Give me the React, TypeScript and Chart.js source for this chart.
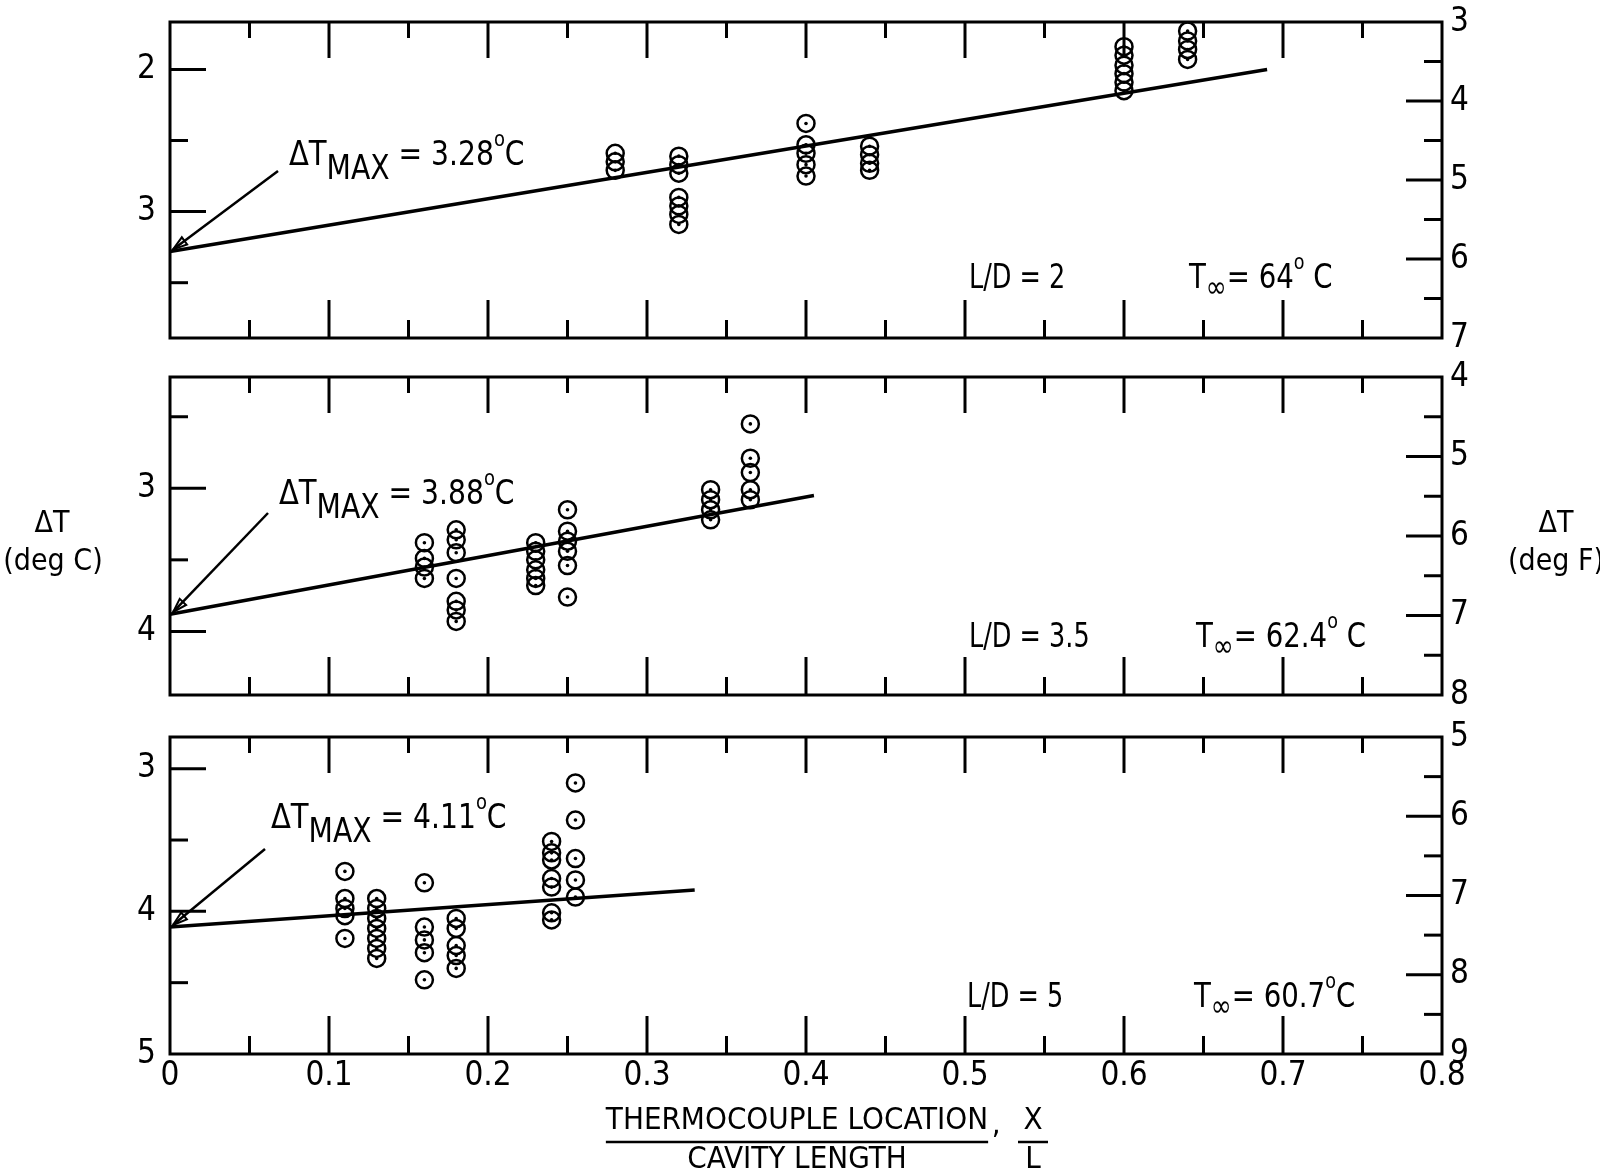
import React, { useEffect, useRef } from 'react';
import { Chart, registerables } from 'chart.js';

Chart.register(...registerables);

const FONT = "'Liberation Sans Narrow', 'DejaVu Sans Condensed', 'Liberation Sans', 'DejaVu Sans', sans-serif";

// ---------- Data (x/L, ΔT in deg C) ----------
// Panel 1: L/D = 2
const p1X = [0.28, 0.28, 0.28, 0.32, 0.32, 0.32, 0.32, 0.32, 0.32, 0.32, 0.40, 0.40, 0.40, 0.40, 0.40, 0.44, 0.44, 0.44, 0.44, 0.60, 0.60, 0.60, 0.60, 0.60, 0.60, 0.64, 0.64, 0.64, 0.64];
const p1Y = [2.59, 2.65, 2.71, 2.61, 2.67, 2.73, 2.90, 2.96, 3.02, 3.09, 2.38, 2.53, 2.59, 2.67, 2.75, 2.54, 2.60, 2.66, 2.71, 1.84, 1.90, 1.97, 2.03, 2.09, 2.15, 1.73, 1.80, 1.86, 1.93];
const p1FitX = [0, 0.69];
const p1FitY = [3.28, 2.0];

// Panel 2: L/D = 3.5
const p2X = [0.16, 0.16, 0.16, 0.16, 0.18, 0.18, 0.18, 0.18, 0.18, 0.18, 0.18, 0.23, 0.23, 0.23, 0.23, 0.23, 0.23, 0.25, 0.25, 0.25, 0.25, 0.25, 0.25, 0.34, 0.34, 0.34, 0.34, 0.365, 0.365, 0.365, 0.365, 0.365];
const p2Y = [3.38, 3.49, 3.55, 3.63, 3.29, 3.36, 3.45, 3.63, 3.79, 3.85, 3.93, 3.38, 3.44, 3.50, 3.57, 3.63, 3.68, 3.15, 3.30, 3.37, 3.44, 3.54, 3.76, 3.01, 3.08, 3.15, 3.22, 2.55, 2.79, 2.89, 3.01, 3.08];
const p2FitX = [0, 0.405];
const p2FitY = [3.88, 3.05];

// Panel 3: L/D = 5
const p3X = [0.11, 0.11, 0.11, 0.11, 0.11, 0.13, 0.13, 0.13, 0.13, 0.13, 0.13, 0.13, 0.16, 0.16, 0.16, 0.16, 0.16, 0.18, 0.18, 0.18, 0.18, 0.18, 0.24, 0.24, 0.24, 0.24, 0.24, 0.24, 0.24, 0.255, 0.255, 0.255, 0.255, 0.255];
const p3Y = [3.72, 3.91, 3.98, 4.03, 4.19, 3.91, 3.98, 4.05, 4.12, 4.19, 4.26, 4.33, 3.80, 4.11, 4.20, 4.29, 4.48, 4.05, 4.12, 4.24, 4.31, 4.40, 3.51, 3.59, 3.64, 3.77, 3.83, 4.01, 4.06, 3.10, 3.36, 3.63, 3.78, 3.90];
const p3FitX = [0, 0.33];
const p3FitY = [4.11, 3.85];

// ---------- Axes / ticks ----------
const xTickValues = [0, 0.05, 0.1, 0.15, 0.2, 0.25, 0.3, 0.35, 0.4, 0.45, 0.5, 0.55, 0.6, 0.65, 0.7, 0.75, 0.8];
const xTickLabels = ['0', '', '0.1', '', '0.2', '', '0.3', '', '0.4', '', '0.5', '', '0.6', '', '0.7', '', '0.8'];

const p1LeftTicks = [2, 2.5, 3, 3.5];
const p1LeftLabels = ['2', '', '3', ''];
const p2LeftTicks = [2.5, 3, 3.5, 4];
const p2LeftLabels = ['', '3', '', '4'];
const p3LeftTicks = [3, 3.5, 4, 4.5, 5];
const p3LeftLabels = ['3', '', '4', '', '5'];

const p1RightTicks = [3, 3.5, 4, 4.5, 5, 5.5, 6, 6.5, 7];
const p1RightLabels = ['3', '', '4', '', '5', '', '6', '', '7'];
const p2RightTicks = [4, 4.5, 5, 5.5, 6, 6.5, 7, 7.5, 8];
const p2RightLabels = ['4', '', '5', '', '6', '', '7', '', '8'];
const p3RightTicks = [5, 5.5, 6, 6.5, 7, 7.5, 8, 8.5, 9];
const p3RightLabels = ['5', '', '6', '', '7', '', '8', '', '9'];

const degFRanges = [[3, 7], [4, 8], [5, 9]];

const dTmaxValues = ['3.28', '3.88', '4.11'];
const ldValues = ['2', '3.5', '5'];
const tInfValues = ['64', '62.4', '60.7'];
const tInfUnits = [' C', ' C', 'C'];

// ---------- Drawing helpers ----------
type Part = [string, number, number];

function drawRich(ctx: CanvasRenderingContext2D, x: number, y: number, parts: Part[], sx = 0.9) {
  ctx.save();
  ctx.translate(x, y);
  ctx.scale(sx, 1);
  let cx = 0;
  for (const [t, size, dy] of parts) {
    ctx.font = `${size}px ${FONT}`;
    ctx.fillText(t, cx, dy);
    cx += ctx.measureText(t).width;
  }
  ctx.restore();
}

const decoPlugin = {
  id: 'deco',
  afterDraw(chart: any, _args: any, o: any) {
    const { ctx, chartArea: a, scales } = chart;
    const xs = scales.x;
    const yl = scales.y;
    const yr = scales.yF;
    ctx.save();
    ctx.strokeStyle = '#000';
    ctx.fillStyle = '#000';
    ctx.lineCap = 'butt';
    const seg = (x1: number, y1: number, x2: number, y2: number, w = 3) => {
      ctx.lineWidth = w;
      ctx.beginPath();
      ctx.moveTo(x1, y1);
      ctx.lineTo(x2, y2);
      ctx.stroke();
    };
    xs.ticks.forEach((t: any, i: number) => {
      if (t.value <= xs.min || t.value >= xs.max) return;
      const p = xs.getPixelForValue(t.value);
      const major = i % 2 === 0;
      seg(p, a.top, p, a.top + (major ? 36 : 16));
      seg(p, a.bottom, p, a.bottom - (major ? 38 : 18));
    });
    yl.ticks.forEach((t: any) => {
      const p = yl.getPixelForValue(t.value);
      if (Math.abs(p - a.bottom) < 2 || Math.abs(p - a.top) < 2) return;
      const major = Number.isInteger(t.value);
      seg(a.left, p, a.left + (major ? 36 : 18), p);
    });
    yr.ticks.forEach((t: any) => {
      if (t.value <= yr.min || t.value >= yr.max) return;
      const p = yr.getPixelForValue(t.value);
      const major = Number.isInteger(t.value);
      seg(a.right, p, a.right - (major ? 36 : 18), p);
    });
    ctx.lineWidth = 3;
    ctx.strokeRect(a.left, a.top, a.right - a.left, a.bottom - a.top);

    // Arrow to ΔT max intercept
    const tipX = xs.getPixelForValue(0) + 3;
    const tipY = yl.getPixelForValue(o.dTmax) - 2;
    const sx = o.arrowFrom[0];
    const sy = a.top + o.arrowFrom[1];
    seg(sx, sy, tipX, tipY, 2.5);
    const ang = Math.atan2(sy - tipY, sx - tipX);
    const L = 15;
    ctx.beginPath();
    ctx.moveTo(tipX, tipY);
    ctx.lineTo(tipX + L * Math.cos(ang + 0.3), tipY + L * Math.sin(ang + 0.3));
    ctx.lineTo(tipX + L * Math.cos(ang - 0.3), tipY + L * Math.sin(ang - 0.3));
    ctx.closePath();
    ctx.lineWidth = 2;
    ctx.stroke();

    ctx.textAlign = 'left';
    ctx.textBaseline = 'alphabetic';
    drawRich(ctx, o.ann[0], a.top + o.ann[1], [
      ['ΔT', 34, 0],
      ['MAX', 33, 14],
      [' = ' + o.dTmaxText, 33, 0],
      ['o', 21, -19],
      ['C', 33, 0],
    ], 0.95);
    drawRich(ctx, o.ldX, a.top + o.labY, [['L/D = ' + o.ld, 33, 0]], 0.86);
    drawRich(ctx, o.tX, a.top + o.labY, [
      ['T', 33, 0],
      ['∞', 30, 9],
      ['= ' + o.tInf, 33, 0],
      ['o', 21, -19],
      [o.tUnit, 33, 0],
    ], 0.93);

    // outer titles
    if (o.sideTitles) {
      ctx.textAlign = 'center';
      ctx.textBaseline = 'middle';
      ctx.font = `30px ${FONT}`;
      ctx.fillText('ΔT', 52, a.top + o.sideTitles[0]);
      ctx.fillText('(deg C)', 53, a.top + o.sideTitles[1]);
      ctx.fillText('ΔT', 1556, a.top + o.sideTitles[0]);
      ctx.fillText('(deg F)', 1556, a.top + o.sideTitles[1]);
    }
    if (o.xTitle) {
      const ty = a.bottom + o.xTitle;
      ctx.textAlign = 'left';
      ctx.textBaseline = 'middle';
      ctx.font = `31px ${FONT}`;
      const num = 'THERMOCOUPLE LOCATION';
      const w = ctx.measureText(num).width;
      const x0 = 797 - w / 2;
      ctx.fillText(num, x0, ty);
      seg(x0, ty + 21, x0 + w, ty + 21, 2.5);
      ctx.textAlign = 'center';
      ctx.fillText('CAVITY LENGTH', 797, ty + 39);
      ctx.fillText(',', x0 + w + 8, ty + 4);
      ctx.fillText('X', 1033, ty);
      seg(1018, ty + 21, 1048, ty + 21, 2.5);
      ctx.fillText('L', 1033, ty + 39);
    }
    ctx.restore();
  },
};

interface PanelSpec {
  xs: number[];
  ys: number[];
  fitX: number[];
  fitY: number[];
  leftTicks: number[];
  leftLabels: string[];
  rightTicks: number[];
  rightLabels: string[];
  fRange: number[];
  showX: boolean;
  panelTop: number;
  panelBottom: number;
  deco: any;
}

const MARGIN = 40;
const XAXIS_H = 121;

const panels: PanelSpec[] = [
  {
    xs: p1X, ys: p1Y, fitX: p1FitX, fitY: p1FitY,
    leftTicks: p1LeftTicks, leftLabels: p1LeftLabels,
    rightTicks: p1RightTicks, rightLabels: p1RightLabels,
    fRange: degFRanges[0], showX: false,
    panelTop: 22, panelBottom: 338,
    deco: {
      dTmax: Number(dTmaxValues[0]), dTmaxText: dTmaxValues[0], ld: ldValues[0], tInf: tInfValues[0], tUnit: tInfUnits[0],
      arrowFrom: [278, 149], ann: [289, 143], ldX: 969, tX: 1189, labY: 266,
    },
  },
  {
    xs: p2X, ys: p2Y, fitX: p2FitX, fitY: p2FitY,
    leftTicks: p2LeftTicks, leftLabels: p2LeftLabels,
    rightTicks: p2RightTicks, rightLabels: p2RightLabels,
    fRange: degFRanges[1], showX: false,
    panelTop: 377, panelBottom: 695,
    deco: {
      dTmax: Number(dTmaxValues[1]), dTmaxText: dTmaxValues[1], ld: ldValues[1], tInf: tInfValues[1], tUnit: tInfUnits[1],
      arrowFrom: [268, 136], ann: [279, 127], ldX: 969, tX: 1196, labY: 270,
      sideTitles: [147, 185],
    },
  },
  {
    xs: p3X, ys: p3Y, fitX: p3FitX, fitY: p3FitY,
    leftTicks: p3LeftTicks, leftLabels: p3LeftLabels,
    rightTicks: p3RightTicks, rightLabels: p3RightLabels,
    fRange: degFRanges[2], showX: true,
    panelTop: 737, panelBottom: 1054,
    deco: {
      dTmax: Number(dTmaxValues[2]), dTmaxText: dTmaxValues[2], ld: ldValues[2], tInf: tInfValues[2], tUnit: tInfUnits[2],
      arrowFrom: [265, 112], ann: [271, 91], ldX: 967, tX: 1194, labY: 270,
      xTitle: 67,
    },
  },
];

function canvasBox(p: PanelSpec) {
  const top = p.panelTop - MARGIN;
  const bottomSpace = p.showX ? XAXIS_H : MARGIN;
  const height = p.panelBottom - p.panelTop + MARGIN + bottomSpace;
  return { top, height };
}

function buildConfig(p: PanelSpec): any {
  const pts = p.xs.map((x, i) => ({ x, y: p.ys[i] }));
  const fit = p.fitX.map((x, i) => ({ x, y: p.fitY[i] }));
  const tickFont = { family: FONT, size: 33, lineHeight: 1 };
  return {
    type: 'scatter',
    data: {
      datasets: [
        {
          type: 'line', data: fit, borderColor: '#000', borderWidth: 3.5,
          pointRadius: 0, fill: false, tension: 0, clip: false, xAxisID: 'x', yAxisID: 'y',
        },
        {
          data: pts, pointStyle: 'circle', pointRadius: 8.5, borderColor: '#000', borderWidth: 2.5,
          backgroundColor: 'rgba(0,0,0,0)', clip: false, xAxisID: 'x', yAxisID: 'y',
        },
        {
          data: pts, pointStyle: 'circle', pointRadius: 1.8, borderWidth: 0,
          backgroundColor: '#000', clip: false, xAxisID: 'x', yAxisID: 'y',
        },
      ],
    },
    options: {
      responsive: false,
      animation: false,
      events: [],
      layout: { autoPadding: false, padding: { top: MARGIN, bottom: p.showX ? 0 : MARGIN, left: 0, right: 0 } },
      plugins: { legend: { display: false }, tooltip: { enabled: false }, deco: p.deco },
      scales: {
        x: {
          type: 'linear', min: 0, max: 0.8, display: p.showX,
          afterBuildTicks: (s: any) => { s.ticks = xTickValues.map((v) => ({ value: v })); },
          afterFit: (s: any) => { s.height = p.showX ? XAXIS_H : 0; },
          ticks: {
            autoSkip: false, maxRotation: 0, padding: 6, color: '#000', font: tickFont,
            callback: (_v: any, i: number) => xTickLabels[i],
          },
          grid: { display: false, drawTicks: false },
          border: { display: false },
        },
        y: {
          type: 'linear', position: 'left', reverse: true,
          min: p.fRange[0] / 1.8, max: p.fRange[1] / 1.8,
          afterBuildTicks: (s: any) => { s.ticks = p.leftTicks.map((v) => ({ value: v })); },
          afterFit: (s: any) => { s.width = 170; },
          ticks: {
            padding: 14, color: '#000', font: tickFont,
            callback: (_v: any, i: number) => p.leftLabels[i],
          },
          grid: { display: false, drawTicks: false },
          border: { display: false },
        },
        yF: {
          type: 'linear', position: 'right', reverse: true,
          min: p.fRange[0], max: p.fRange[1],
          afterBuildTicks: (s: any) => { s.ticks = p.rightTicks.map((v) => ({ value: v })); },
          afterFit: (s: any) => { s.width = 158; },
          ticks: {
            padding: 8, color: '#000', font: tickFont,
            callback: (_v: any, i: number) => p.rightLabels[i],
          },
          grid: { display: false, drawTicks: false },
          border: { display: false },
        },
      },
    },
    plugins: [decoPlugin],
  };
}

function Panel({ spec }: { spec: PanelSpec }) {
  const ref = useRef<HTMLCanvasElement>(null);
  const box = canvasBox(spec);
  useEffect(() => {
    const chart = new Chart(ref.current as HTMLCanvasElement, buildConfig(spec));
    return () => chart.destroy();
  }, [spec]);
  return (
    <canvas
      ref={ref}
      width={1600}
      height={box.height}
      style={{ position: 'absolute', left: 0, top: box.top, width: 1600, height: box.height, display: 'block' }}
    />
  );
}

export default function App() {
  return (
    <div style={{ position: 'absolute', left: 0, top: 0, width: 1600, height: 1175, background: '#fff', overflow: 'hidden' }}>
      {panels.map((p, i) => (
        <Panel key={i} spec={p} />
      ))}
    </div>
  );
}
